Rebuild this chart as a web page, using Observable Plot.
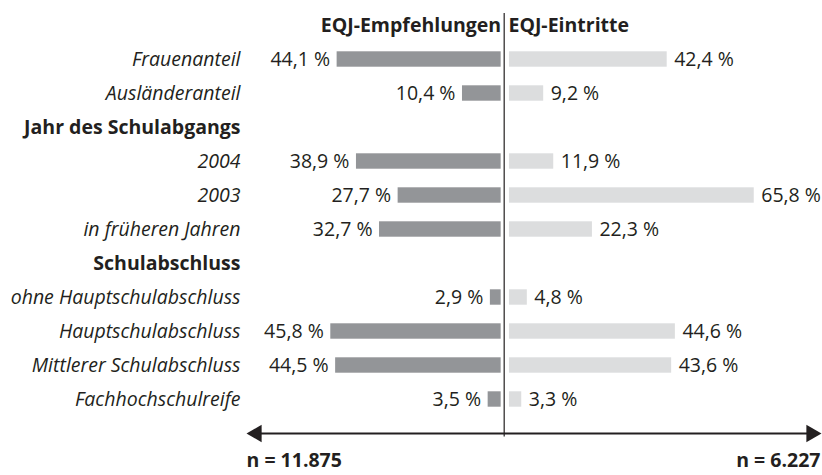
<!DOCTYPE html>
<html><head><meta charset="utf-8">
<script src="https://cdn.jsdelivr.net/npm/d3@7"></script>
<script src="https://cdn.jsdelivr.net/npm/@observablehq/plot@0.6"></script>
<style>body{margin:0;background:#fff} svg{display:block}</style>
</head><body><div id="chart"></div>
<script>
const rows = ["Frauenanteil","Ausländeranteil","Jahr des Schulabgangs","2004","2003","in früheren Jahren","Schulabschluss","ohne Hauptschulabschluss","Hauptschulabschluss","Mittlerer Schulabschluss","Fachhochschulreife"];
const headings = ["Jahr des Schulabgangs","Schulabschluss"];
const empfehlungen = [44.1, 10.4, null, 38.9, 27.7, 32.7, null, 2.9, 45.8, 44.5, 3.5];
const eintritte = [42.4, 9.2, null, 11.9, 65.8, 22.3, null, 4.8, 44.6, 43.6, 3.3];
const seriesTitles = ["EQJ-Empfehlungen","EQJ-Eintritte"];
const sampleSizes = ["n = 11.875","n = 6.227"];

const HEADER = "__header", ARROW = "__arrow";
const data = rows.map((r, i) => ({row: r, heading: headings.includes(r), left: empfehlungen[i], right: eintritte[i]}));
const bars = data.filter(d => d.left != null);
const fmt = v => v.toFixed(1).replace(".", ",") + " %";
const gapL = 0.81, gapR = 1.42;
const xDomain = [-69.27, 85.3];
const ink = "#231f20";
const bandInset = 9.3;

const chart = Plot.plot({
  width: 822, height: 475,
  marginLeft: 246, marginRight: 1, marginTop: 4.2, marginBottom: 21.2,
  x: {domain: xDomain, axis: null},
  y: {type: "band", domain: [HEADER, ...rows, ARROW], padding: 0, axis: null},
  style: {fontFamily: "'Open Sans', sans-serif", fontSize: "19.5px", color: ink, background: "#fff"},
  marks: [
    Plot.barX(bars, {y: "row", x1: -gapL, x2: d => -gapL - d.left, fill: "#939598", insetTop: bandInset, insetBottom: bandInset}),
    Plot.barX(bars, {y: "row", x1: gapR, x2: d => gapR + d.right, fill: "#dcddde", insetTop: bandInset, insetBottom: bandInset}),
    Plot.text(bars, {y: "row", x: d => -gapL - d.left, text: d => fmt(d.left), textAnchor: "end", dx: -7, fill: ink}),
    Plot.text(bars, {y: "row", x: d => gapR + d.right, text: d => fmt(d.right), textAnchor: "start", dx: 7, fill: ink}),
    Plot.text(data.filter(d => !d.heading), {y: "row", text: "row", frameAnchor: "left", textAnchor: "end", dx: -6, fontStyle: "italic", fill: ink}),
    Plot.text(data.filter(d => d.heading), {y: "row", text: "row", frameAnchor: "left", textAnchor: "end", dx: -6, fontWeight: "bold", fill: ink}),
    Plot.text([{t: seriesTitles[0], y: HEADER}], {x: -gapL, y: "y", text: "t", textAnchor: "end", fontWeight: "bold", fill: ink}),
    Plot.text([{t: seriesTitles[1], y: HEADER}], {x: gapR, y: "y", text: "t", textAnchor: "start", dx: -1, fontWeight: "bold", fill: ink}),
    Plot.ruleX([0], {stroke: ink, strokeWidth: 1.2, insetTop: 8.8, insetBottom: 17.3}),
    Plot.ruleY([{y: ARROW}], {y: "y", x1: xDomain[0], x2: xDomain[1], stroke: ink, strokeWidth: 2.2, insetLeft: 6, insetRight: 6}),
    Plot.dot([{x: xDomain[0], y: ARROW, rot: -90}], {x: "x", y: "y", symbol: "triangle", r: 6.5, fill: ink, stroke: "none", rotate: "rot", dx: 10.1}),
    Plot.dot([{x: xDomain[1], y: ARROW, rot: 90}], {x: "x", y: "y", symbol: "triangle", r: 6.5, fill: ink, stroke: "none", rotate: "rot", dx: -10.1}),
    Plot.text([{t: sampleSizes[0], x: xDomain[0], y: ARROW}], {x: "x", y: "y", text: "t", textAnchor: "start", dy: 27.5, fontWeight: "bold", fill: ink}),
    Plot.text([{t: sampleSizes[1], x: xDomain[1], y: ARROW}], {x: "x", y: "y", text: "t", textAnchor: "end", dy: 27.5, dx: -1, fontWeight: "bold", fill: ink})
  ]
});
document.getElementById("chart").append(chart);
</script>
</body></html>
